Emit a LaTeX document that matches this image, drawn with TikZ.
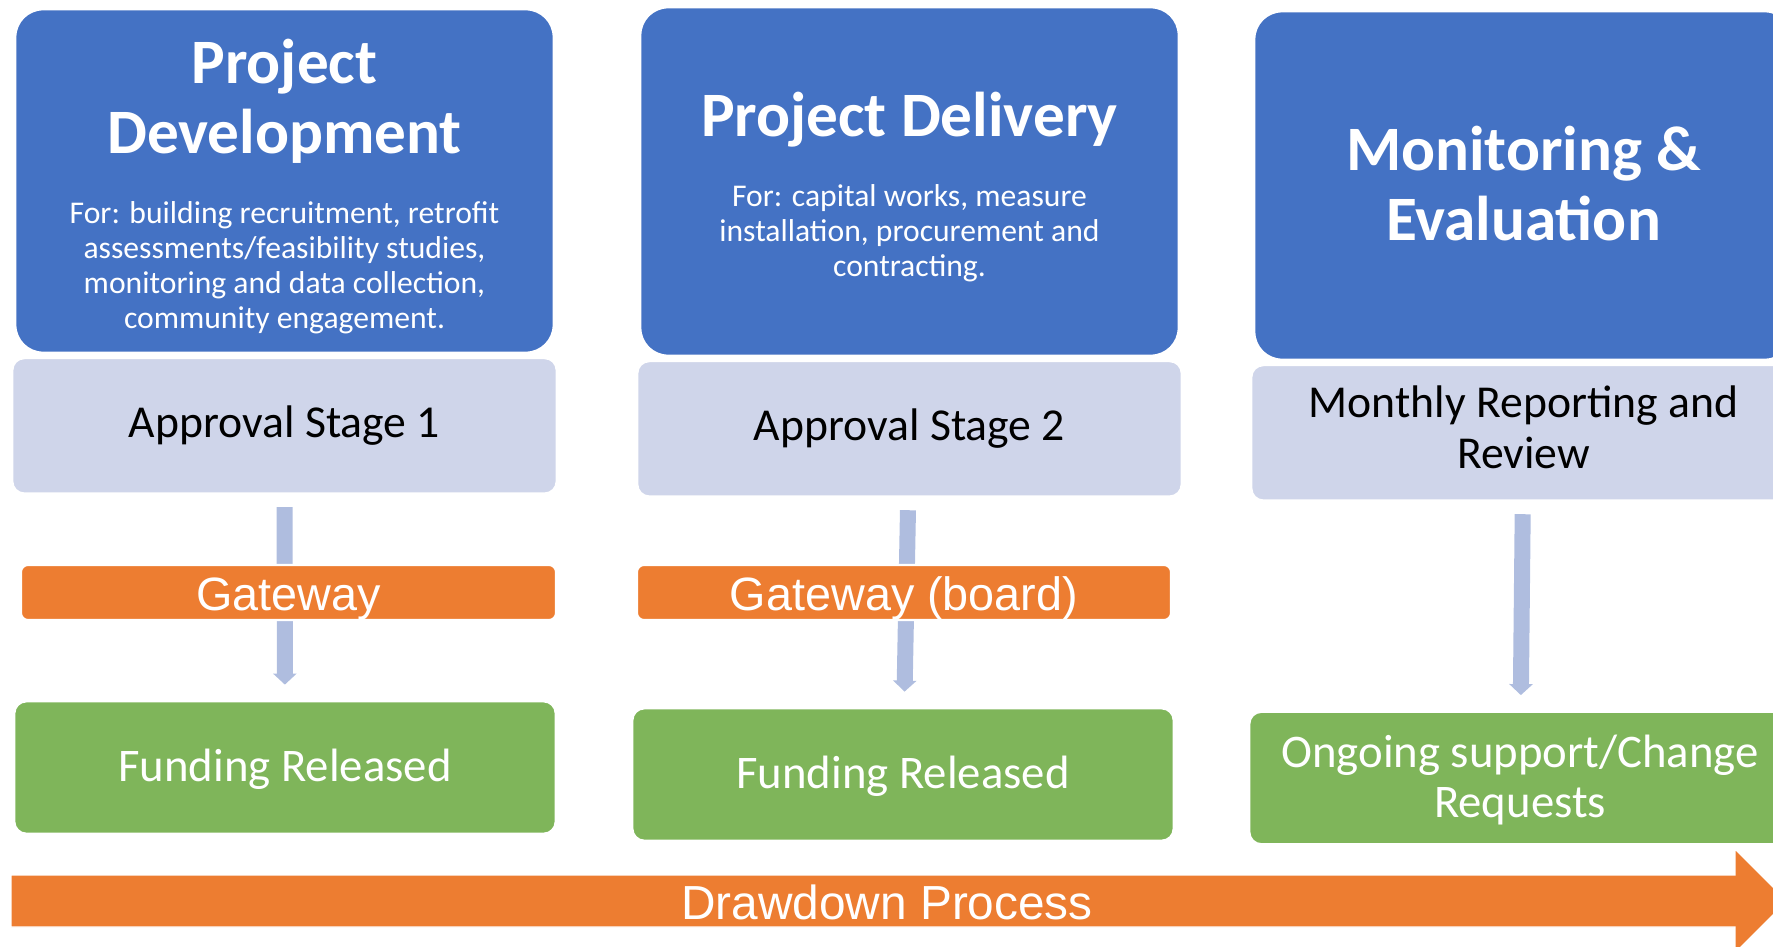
\documentclass[tikz,border=0pt]{standalone}
\usepackage{fontspec}
\setmainfont{Carlito}
\newfontfamily\arialfont{Liberation Sans}
\usetikzlibrary{positioning,arrows.meta}
\pgfdeclarelayer{background layer}
\pgfsetlayers{background layer,main}
\definecolor{phaseblue}{HTML}{4472C4}
\definecolor{stagegray}{HTML}{CFD5EA}
\definecolor{gateorange}{HTML}{ED7D31}
\definecolor{fundgreen}{HTML}{7FB55A}
\definecolor{flowblue}{HTML}{AFBDDF}
\newcommand{\titlefont}{\fontsize{18}{20}\selectfont\bfseries}
\newcommand{\notefont}{\fontsize{9}{10}\selectfont\mdseries}

\begin{document}
\begin{tikzpicture}
[align=center,inner sep=0pt]
\tikzstyle{phase}=[fill=phaseblue, draw=white, line width=0.8pt, rounded corners=8pt, text=white, align=flush center, text width=5.3cm, minimum width=5.39cm, minimum height=3.46cm]
\tikzstyle{stage}=[fill=stagegray, draw=white, line width=0.8pt, rounded corners=3.5pt, minimum width=5.45cm, minimum height=1.36cm, font=\fontsize{13}{14.5}\selectfont]
\tikzstyle{gate}=[fill=gateorange, draw=white, line width=0.6pt, rounded corners=2pt, minimum width=5.35cm, minimum height=0.55cm, text=white, text height=10.5pt, text depth=0pt, font=\arialfont\fontsize{13.3}{15}\selectfont]
\tikzstyle{fund}=[fill=fundgreen, draw=white, line width=0.8pt, rounded corners=3.5pt, minimum width=5.42cm, minimum height=1.33cm, text=white, text depth=1pt, font=\fontsize{13.3}{14.5}\selectfont]
\tikzstyle{flow}=[draw=flowblue, fill=flowblue, line width=0.16cm, -{Triangle[width=0.23cm,length=0.11cm]}, shorten <=0.12cm, shorten >=0.15cm]

\useasboundingbox (0,0) rectangle (17.73,9.46);

\draw node [phase, minimum height=3.44cm] (dev) at (2.845,7.65) {\titlefont\rule{0pt}{15.7pt}Project\\Development\par\vskip9.9pt\notefont For: building recruitment, retrofit\\assessments/feasibility studies,\\monitoring and data collection,\\community engagement.\par};
\draw node [phase, minimum height=3.49cm] (deliv) at (9.095,7.645) {\titlefont\rule{0pt}{15.8pt}Project Delivery\par\vskip9.9pt\notefont For: capital works, measure\\installation, procurement and\\contracting.\par};
\draw node [phase, minimum height=3.49cm] (mon) at (15.235,7.605) {\titlefont Monitoring \&\\Evaluation\rule[-1.4pt]{0pt}{0pt}\par};

\draw node [stage, below=0.02cm of dev] (as1) {Approval Stage 1};
\draw node [stage, below=0.02cm of deliv] (as2) {Approval Stage 2};
\draw node [stage, text depth=3.2pt, below=0.02cm of mon] (mrr) {Monthly Reporting and\\Review};

\draw node [gate] (gw1) at (2.885,3.535) {Gateway};
\draw node [gate, minimum width=5.34cm] (gw2) at (9.04,3.535) {Gateway (board)};

\draw node [fund] (fr1) at (2.85,1.785) {Funding Released};
\draw node [fund] (fr2) at (9.03,1.715) {Funding Released};
\draw node [fund] (ongo) at (15.20,1.68) {Ongoing support/Change\\Requests};

\begin{pgfonlayer}{background layer}
\draw [flow] (as1) -- (fr1);
\draw [flow] (as2) -- (fr2);
\draw [flow] (mrr) -- (ongo);
\end{pgfonlayer}

% drawdown arrow along the bottom
\filldraw [fill=gateorange, draw=white, line width=0.4pt] (0.11,0.71) -- (17.35,0.71) -- (17.35,0.97) -- (17.87,0.45) -- (17.35,-0.07) -- (17.35,0.19) -- (0.11,0.19) -- cycle;
\draw node [text=white, font=\arialfont\fontsize{13.6}{15}\selectfont] (drawdown) at (8.87,0.44) {Drawdown Process};

\end{tikzpicture}
\end{document}
